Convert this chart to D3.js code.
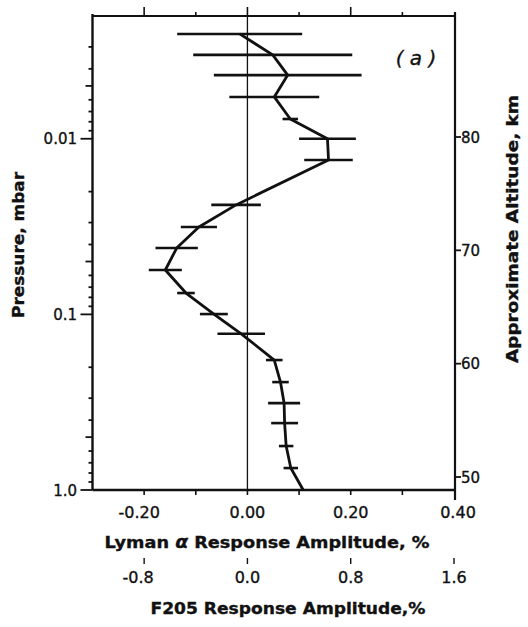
<!DOCTYPE html>
<html>
<head>
<meta charset="utf-8">
<script src="https://cdn.jsdelivr.net/npm/d3@7"></script>
<style>
  html, body { margin: 0; padding: 0; background: #fff; }
  svg { display: block; }
  text { font-family: "DejaVu Sans", "Liberation Sans", sans-serif; fill: #111; stroke: #111; stroke-width: 0.35; }
</style>
</head>
<body>
<svg id="chart" width="528" height="627"></svg>
<script>
// Response amplitude profile versus pressure level
const pressure = [0.00253, 0.00333, 0.00434, 0.00578, 0.00772, 0.0100, 0.0132,
                  0.0238, 0.0318, 0.0419, 0.0559, 0.0756, 0.0996, 0.129,
                  0.182, 0.243, 0.320, 0.416, 0.562, 0.750, 1.0];
const response = [-0.015, 0.049, 0.078, 0.052, 0.083, 0.155, 0.157,
                  -0.022, -0.094, -0.137, -0.159, -0.119, -0.065, -0.012,
                  0.052, 0.064, 0.071, 0.072, 0.075, 0.084, 0.108];
const errorHalf = [0.121, 0.154, 0.143, 0.087, 0.015, 0.055, 0.047,
                   0.048, 0.035, 0.041, 0.032, 0.017, 0.027, 0.046,
                   0.016, 0.016, 0.031, 0.026, 0.014, 0.014, 0];

const lymanTicks = [-0.2, 0.0, 0.2, 0.4];
const lymanTickLabels = ["-0.20", "0.00", "0.20", "0.40"];
const lymanMinor = [-0.2, -0.1, 0.0, 0.1, 0.2, 0.3];
const f205Ticks = [-0.8, 0.0, 0.8, 1.6];
const f205TickLabels = ["-0.8", "0.0", "0.8", "1.6"];
const pressureTicks = [0.01, 0.1, 1.0];
const pressureTickLabels = ["0.01", "0.1", "1.0"];
const altitudeTicks = [50, 60, 70, 80];

const svg = d3.select("#chart");
const ink = "#111";

const x = d3.scaleLinear().domain([-0.3, 0.4]).range([92.5, 454]);
const xF = d3.scaleLinear().domain([-1.2, 1.6]).range([92.5, 454]);
const y = d3.scaleLog().domain([0.002, 1]).range([16, 490]);
const alt = d3.scaleLinear().domain([50, 80]).range([477, 137]);

const L = x.range()[0], R = 455, T = y(0.002), B = y(1);

// frame
svg.append("line").attr("x1", L).attr("x2", L).attr("y1", T - 2).attr("y2", B)
  .attr("stroke", ink).attr("stroke-width", 2.4);
svg.append("line").attr("x1", L).attr("x2", R).attr("y1", T).attr("y2", T)
  .attr("stroke", ink).attr("stroke-width", 2.2);
svg.append("line").attr("x1", R).attr("x2", R).attr("y1", T - 4).attr("y2", B + 10)
  .attr("stroke", ink).attr("stroke-width", 2.2);
svg.append("line").attr("x1", L).attr("x2", R).attr("y1", B).attr("y2", B)
  .attr("stroke", ink).attr("stroke-width", 2.4);

// zero reference line
svg.append("line").attr("x1", x(0)).attr("x2", x(0)).attr("y1", T).attr("y2", B)
  .attr("stroke", ink).attr("stroke-width", 1.3);

// left pressure axis (log): minor ticks 2..9 per decade, mid-decade ticks longer
const minorP = [];
[0.001, 0.01, 0.1].forEach(d => { for (let k = 2; k <= 9; k++) minorP.push(d * k); });
minorP.filter(p => p > 0.002 && p < 1).forEach(p => {
  const isFive = Math.abs(p / Math.pow(10, Math.floor(Math.log10(p) + 1e-9)) - 5) < 1e-6;
  svg.append("line").attr("x1", L).attr("x2", L - (isFive ? 7 : 4))
    .attr("y1", y(p)).attr("y2", y(p)).attr("stroke", ink).attr("stroke-width", 1.8);
});
pressureTicks.forEach((p, i) => {
  svg.append("line").attr("x1", L).attr("x2", L - 12).attr("y1", y(p)).attr("y2", y(p))
    .attr("stroke", ink).attr("stroke-width", 1.8);
  svg.append("text").attr("x", 77).attr("y", y(p) + 5.5).attr("text-anchor", "end")
    .attr("font-size", 15).text(pressureTickLabels[i]);
});
svg.append("text").attr("transform", "translate(24,245) rotate(-90)")
  .attr("text-anchor", "middle").attr("font-size", 16).attr("font-weight", "bold")
  .attr("textLength", 146).attr("lengthAdjust", "spacingAndGlyphs")
  .text("Pressure, mbar");

// right altitude axis
altitudeTicks.forEach(a => {
  svg.append("line").attr("x1", R).attr("x2", R + 6).attr("y1", alt(a)).attr("y2", alt(a))
    .attr("stroke", ink).attr("stroke-width", 1.8);
  svg.append("text").attr("x", R + 6).attr("y", alt(a) + 5.5).attr("font-size", 15).text(a);
});
svg.append("text").attr("transform", "translate(518,229) rotate(-90)")
  .attr("text-anchor", "middle").attr("font-size", 16).attr("font-weight", "bold")
  .attr("textLength", 268).attr("lengthAdjust", "spacingAndGlyphs")
  .text("Approximate Altitude, km");

// top ticks
lymanMinor.forEach(v => {
  const major = Math.abs(Math.round(v * 10)) % 2 === 0;
  svg.append("line").attr("x1", x(v)).attr("x2", x(v)).attr("y1", T).attr("y2", T - (major ? 9 : 4))
    .attr("stroke", ink).attr("stroke-width", 1.6);
});

// bottom Lyman-alpha axis
lymanMinor.forEach(v => {
  svg.append("line").attr("x1", x(v)).attr("x2", x(v)).attr("y1", B).attr("y2", B + 5)
    .attr("stroke", ink).attr("stroke-width", 1.6);
});
lymanTicks.forEach((v, i) => {
  const off = v < 0 ? -5 : (v >= 0.4 ? 4 : 0);
  svg.append("text").attr("x", x(v) + off).attr("y", 518).attr("text-anchor", "middle")
    .attr("font-size", 16).text(lymanTickLabels[i]);
});
const lyTitle = svg.append("text").attr("x", 267).attr("y", 548).attr("text-anchor", "middle")
  .attr("font-size", 16).attr("font-weight", "bold")
  .attr("textLength", 325).attr("lengthAdjust", "spacingAndGlyphs");
lyTitle.append("tspan").text("Lyman ");
lyTitle.append("tspan").attr("font-style", "italic").attr("font-size", 17).text("α");
lyTitle.append("tspan").text(" Response Amplitude, %");

// F205 axis
f205Ticks.forEach((v, i) => {
  svg.append("line").attr("x1", xF(v)).attr("x2", xF(v)).attr("y1", 558).attr("y2", 564)
    .attr("stroke", ink).attr("stroke-width", 1.4);
  const off = v < 0 ? -6 : 0;
  svg.append("text").attr("x", xF(v) + off).attr("y", 583).attr("text-anchor", "middle")
    .attr("font-size", 16).text(f205TickLabels[i]);
});
svg.append("text").attr("x", 288).attr("y", 614).attr("text-anchor", "middle")
  .attr("font-size", 16).attr("font-weight", "bold")
  .attr("textLength", 275).attr("lengthAdjust", "spacingAndGlyphs")
  .text("F205 Response Amplitude,%");

// panel tag
svg.append("text").attr("x", 416).attr("y", 65).attr("text-anchor", "middle")
  .attr("font-size", 20).attr("font-style", "italic").text("( a )");

// error bars
const pts = pressure.map((p, i) => ({ p, v: response[i], e: errorHalf[i] }));
svg.append("g").selectAll("line").data(pts.filter(d => d.e > 0)).join("line")
  .attr("x1", d => x(d.v - d.e)).attr("x2", d => x(d.v + d.e))
  .attr("y1", d => y(d.p)).attr("y2", d => y(d.p))
  .attr("stroke", ink).attr("stroke-width", 2.6);

// profile curve
svg.append("path").datum(pts)
  .attr("d", d3.line().x(d => x(d.v)).y(d => y(d.p)))
  .attr("fill", "none").attr("stroke", ink).attr("stroke-width", 2.8)
  .attr("stroke-linejoin", "round");
</script>
</body>
</html>
